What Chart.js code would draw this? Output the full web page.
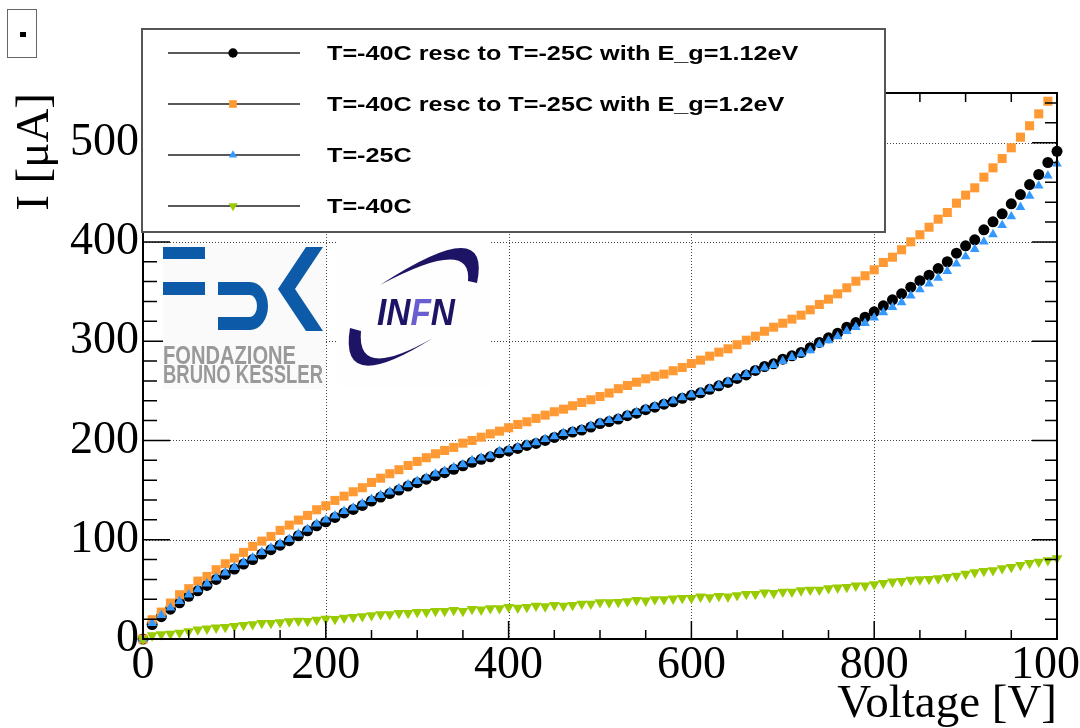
<!DOCTYPE html>
<html><head><meta charset="utf-8">
<script src="https://cdn.jsdelivr.net/npm/chart.js@4.4.1/dist/chart.umd.min.js"></script>
<style>html,body{margin:0;padding:0;background:#fff;}#wrap{position:relative;width:1080px;height:728px;}</style>
</head><body><div id="wrap"><canvas id="c"></canvas></div>
<script>
// ---- data ----
const voltage = [0,10,20,30,40,50,60,70,80,90,100,110,120,130,140,150,160,170,180,190,200,210,220,230,240,250,260,270,280,290,300,310,320,330,340,350,360,370,380,390,400,410,420,430,440,450,460,470,480,490,500,510,520,530,540,550,560,570,580,590,600,610,620,630,640,650,660,670,680,690,700,710,720,730,740,750,760,770,780,790,800,810,820,830,840,850,860,870,880,890,900,910,920,930,940,950,960,970,980,990,1000];
const rescEg112 = [0,14.5,22.5,30.0,36.5,43.0,48.5,54.0,60.0,65.0,70.5,75.5,80.0,85.5,90.0,94.5,99.0,104.0,109.0,114.0,118.0,122.5,127.0,130.5,134.5,139.0,143.0,146.5,150.0,154.0,157.5,161.0,164.5,167.5,171.0,174.5,178.0,181.0,183.5,187.5,189.5,192.0,195.0,197.0,200.0,203.0,206.0,208.5,210.5,213.5,217.0,219.0,221.5,225.0,227.5,231.0,233.5,236.5,239.0,242.5,245.5,248.0,251.5,255.0,258.5,262.5,266.0,270.5,274.5,277.2,281.9,285.3,288.6,293.4,298.7,303.4,308.1,314.1,318.8,324.2,329.6,335.6,341.7,347.7,354.4,361.0,366.5,373.2,380.0,388.6,396.1,402.1,412.2,420.2,428.3,438.4,447.7,457.8,467.9,480.0,491.3];
const rescEg12 = [0,19.4,27.1,36.2,44.6,50.7,58.3,63.0,69.8,75.8,81.5,87.2,93.3,98.6,103.3,109.4,114.7,119.8,124.5,130.2,134.2,139.6,143.9,148.3,152.4,157.7,162.0,166.5,170.5,174.8,178.9,182.6,186.6,189.9,193.0,197.3,200.0,203.3,206.7,209.4,212.8,216.1,218.8,222.2,225.5,228.9,231.5,234.9,238.3,241.0,244.3,247.8,252.1,255.4,258.7,262.1,264.7,266.8,270.2,273.5,277.5,280.9,284.9,288.9,292.3,296.4,301.0,305.0,310.0,314.1,318.1,322.2,326.2,331.6,337.0,342.3,347.7,353.8,360.4,365.9,371.9,379.3,384.6,392.1,400.1,407.2,414.8,422.9,429.6,439.0,447.1,454.5,465.2,474.6,484.0,494.8,505.5,517.0,529.0,541.7];
const tMinus25 = [0,16.0,24.1,31.5,38.2,44.6,50.0,55.7,61.7,66.8,72.4,77.1,81.9,87.5,91.9,96.0,100.6,106.0,110.8,116.1,120.1,124.2,128.8,132.2,136.3,140.9,144.9,148.3,151.7,155.7,159.0,162.4,166.5,169.1,173.0,175.8,179.9,182.6,184.6,189.2,190.6,193.3,196.0,198.0,201.3,204.0,207.4,209.4,211.4,214.8,218.1,220.3,222.5,225.9,228.5,231.9,234.6,237.3,240.0,243.3,246.0,248.6,252.1,255.4,259.4,263.4,266.8,270.5,273.2,275.9,279.9,283.9,287.3,290.6,296.7,300.7,304.7,310.1,314.1,318.1,323.6,328.9,334.3,339.0,345.8,352.0,357.8,363.8,370.5,378.0,385.3,392.7,400.1,407.5,416.8,425.6,435.0,446.4,456.5,466.6,478.7];
const tMinus40 = [0,3.6,4.6,5.3,6.3,7.7,9.4,10.4,11.4,12.0,13.0,14.0,14.7,16.0,16.0,16.7,17.7,18.3,18.0,19.4,20.4,20.0,21.4,22.1,22.8,23.8,24.8,24.8,26.1,26.1,27.1,27.1,28.1,28.1,29.2,28.1,30.1,29.5,30.8,30.8,32.1,31.5,32.1,33.5,32.8,34.1,33.5,34.1,35.5,35.5,36.9,36.8,37.2,37.9,39.2,38.6,39.9,39.9,40.6,41.2,41.2,42.6,41.9,43.2,42.6,43.9,45.2,45.2,46.7,46.2,47.6,47.6,48.9,49.6,49.6,51.0,51.7,52.3,53.7,53.7,55.0,56.3,57.7,58.3,59.7,60.0,60.3,61.0,62.3,63.7,65.7,67.1,68.4,69.1,71.1,72.4,74.4,76.4,77.8,79.2,81.2];
const seriesLabels = ['T=-40C resc to T=-25C with E_g=1.12eV','T=-40C resc to T=-25C with E_g=1.2eV','T=-25C','T=-40C'];
const xAxisTitle = 'Voltage [V]';
const yAxisTitle = 'I [\u03BCA]';

// ---- helpers ----
const SERIF = '"Liberation Serif", "DejaVu Serif", serif';
const SANS = '"Liberation Sans", Arial, sans-serif';
const NARROW = '"Liberation Sans Narrow", "Liberation Sans", Arial, sans-serif';
function toPoints(arr){ const out=[]; voltage.forEach((v,i)=>{ if(arr[i]!==undefined && arr[i]!==null) out.push({x:v,y:arr[i]}); }); return out; }
function marker(ctx, style, x, y, r, rot, color){
  ctx.fillStyle = color; ctx.beginPath();
  if (style==='circle') ctx.arc(x,y,r,0,Math.PI*2);
  else if (style==='rect'){ const s=r*Math.SQRT1_2; ctx.rect(x-s,y-s,2*s,2*s); }
  else { const g = rot===180?-1:1; ctx.moveTo(x,y-g*r); ctx.lineTo(x+0.866*r,y+g*r/2); ctx.lineTo(x-0.866*r,y+g*r/2); ctx.closePath(); }
  ctx.fill();
}
function fitText(ctx, text, x, y, w){
  const m = ctx.measureText(text).width; ctx.save(); ctx.translate(x,y); ctx.scale(w/m,1); ctx.fillText(text,0,0); ctx.restore();
}

const rootPlugin = {
  id:'rootFrame',
  beforeDatasetsDraw(chart){
    const {ctx, chartArea:a, scales:{x,y}} = chart;
    ctx.save(); ctx.strokeStyle='#444'; ctx.lineWidth=1; ctx.setLineDash([1,2]);
    x.ticks.forEach(t=>{ if(t.value<=x.min||t.value>=x.max) return; const p=Math.round(x.getPixelForValue(t.value))+0.5; ctx.beginPath(); ctx.moveTo(p,a.top); ctx.lineTo(p,a.bottom); ctx.stroke(); });
    y.ticks.forEach(t=>{ if(t.value<=y.min||t.value>=y.max) return; const p=Math.round(y.getPixelForValue(t.value))+0.5; ctx.beginPath(); ctx.moveTo(a.left,p); ctx.lineTo(a.right,p); ctx.stroke(); });
    ctx.restore();
  },
  afterDatasetsDraw(chart){
    const {ctx, chartArea:a, scales:{x,y}} = chart;
    ctx.save(); ctx.strokeStyle='#000'; ctx.lineWidth=1.5;
    ctx.beginPath();
    for(let v=x.min; v<=x.max+1e-6; v+=50){ const major=(v%200===0); const p=x.getPixelForValue(v);
      ctx.moveTo(p,a.bottom); ctx.lineTo(p,a.bottom-(major?18:9));
      ctx.moveTo(p,a.top); ctx.lineTo(p,a.top+9); }
    for(let v=y.min; v<=y.max+1e-6; v+=20){ const major=(v%100===0); const p=y.getPixelForValue(v);
      ctx.moveTo(a.left,p); ctx.lineTo(a.left+(major?27:14),p);
      ctx.moveTo(a.right,p); ctx.lineTo(a.right-(major?25:12),p); }
    ctx.stroke();
    ctx.lineWidth=2; ctx.strokeRect(a.left,a.top,a.right-a.left,a.bottom-a.top);
    ctx.restore();
  },
  afterDraw(chart){
    const ctx = chart.ctx; ctx.save();
    // FBK logo
    ctx.fillStyle='#fafafa'; ctx.fillRect(163,244,163,145);
    const fbk='#0d5ba8'; ctx.fillStyle=fbk;
    ctx.fillRect(163,247,42,12); ctx.fillRect(163,282,42,13);
    ctx.beginPath(); ctx.moveTo(218,282); ctx.lineTo(250,282); ctx.ellipse(250,306,18,24,0,-Math.PI/2,Math.PI/2); ctx.lineTo(218,330); ctx.lineTo(218,317); ctx.lineTo(250,317); ctx.ellipse(250,306,7,11,0,Math.PI/2,-Math.PI/2,true); ctx.lineTo(218,295); ctx.closePath(); ctx.fill();
    ctx.beginPath(); ctx.moveTo(306,247); ctx.lineTo(323,247); ctx.lineTo(295,289); ctx.lineTo(323,331); ctx.lineTo(306,331); ctx.lineTo(278,289); ctx.closePath(); ctx.fill();
    ctx.fillStyle='#999999'; ctx.font='bold 25px '+NARROW; ctx.textBaseline='alphabetic'; ctx.textAlign='left';
    fitText(ctx,'FONDAZIONE',163,364,133); fitText(ctx,'BRUNO KESSLER',163,383,160);
    // INFN logo
    ctx.fillStyle='#fefefe'; ctx.fillRect(337,240,153,147);
    const navy='#1e1466'; ctx.fillStyle=navy;
    ctx.beginPath(); ctx.moveTo(380,285); ctx.quadraticCurveTo(492,212,477,283); ctx.lineTo(468,281); ctx.quadraticCurveTo(472,236,380,285); ctx.closePath(); ctx.fill();
    ctx.beginPath(); ctx.moveTo(350,328); ctx.quadraticCurveTo(338,398,433,338); ctx.quadraticCurveTo(356,382,361,331); ctx.closePath(); ctx.fill();
    ctx.font='italic bold 36px '+SANS;
    const letters=['I','N','F','N']; const cols=[navy,navy,'#6a5fd0',navy];
    const total=ctx.measureText('INFN').width; const sx=78/total; let cx=377;
    letters.forEach((l,i)=>{ ctx.fillStyle=cols[i]; ctx.save(); ctx.translate(cx,325); ctx.scale(sx,1); ctx.fillText(l,0,0); ctx.restore(); cx+=ctx.measureText(l).width*sx; });
    // legend
    ctx.fillStyle='#fff'; ctx.fillRect(142,29,743,203); ctx.strokeStyle='#555'; ctx.lineWidth=2; ctx.strokeRect(142,29,743,203);
    const rows=[53,104,155,206];
    chart.data.datasets.forEach((ds,i)=>{ const yy=rows[i];
      ctx.strokeStyle='#222'; ctx.lineWidth=1.3; ctx.beginPath(); ctx.moveTo(168,yy); ctx.lineTo(300,yy); ctx.stroke();
      marker(ctx, ds.pointStyle, 233, yy, ds.pointRadius*0.85, ds.pointRotation||0, ds.backgroundColor);
      ctx.fillStyle='#000'; ctx.font='bold 21px '+SANS; ctx.textBaseline='middle'; ctx.textAlign='left';
      ctx.save(); ctx.translate(327,yy+1); ctx.scale(1.2,1); ctx.fillText(ds.label,0,0); ctx.restore();
    });
    // corner box
    ctx.strokeStyle='#666'; ctx.lineWidth=1; ctx.strokeRect(7.5,9.5,29,48); ctx.fillStyle='#000'; ctx.fillRect(20,32,6,5);
    ctx.restore();
  }
};

const colors = ['#000000','#ff9933','#3399ff','#99cc00'];
const styles = [['circle',5.5,0],['rect',6.4,0],['triangle',5.6,0],['triangle',6.2,180]];
const seriesData = [rescEg112, rescEg12, tMinus25, tMinus40];
const orders = [4,3,2,1];

new Chart(document.getElementById('c'), {
  type:'scatter',
  data:{ datasets: seriesData.map((arr,i)=>({
    label: seriesLabels[i], data: toPoints(arr), showLine:false,
    pointStyle: styles[i][0], pointRadius: styles[i][1], pointRotation: styles[i][2],
    backgroundColor: colors[i], borderColor: colors[i], pointBorderWidth:0, pointHoverRadius: styles[i][1],
    order: orders[i], clip:false }))},
  options:{
    responsive:true, maintainAspectRatio:false, animation:false, events:[],
    layout:{ padding:{ top:93, right:23, left:0, bottom:0 } },
    plugins:{ legend:{display:false}, tooltip:{enabled:false} },
    scales:{
      x:{ type:'linear', min:0, max:1000,
        afterFit(s){ s.height=89; s.paddingLeft=0; s.paddingRight=0; },
        grid:{display:false, drawTicks:false}, border:{display:false},
        ticks:{ stepSize:200, autoSkip:false, maxRotation:0, includeBounds:false, padding:4, color:'#000', font:{family:SERIF, size:46, lineHeight:1}, callback:(v)=>String(v) },
        title:{ display:true, text:xAxisTitle, align:'end', color:'#000', padding:0, font:{family:SERIF, size:47, lineHeight:1} } },
      y:{ type:'linear', min:0, max:550,
        afterFit(s){ s.width=143; s.paddingTop=0; s.paddingBottom=0; },
        grid:{display:false, drawTicks:false}, border:{display:false},
        ticks:{ stepSize:100, includeBounds:false, padding:4, color:'#000', font:{family:SERIF, size:46, lineHeight:1}, callback:(v)=>String(v) },
        title:{ display:true, text:yAxisTitle, align:'end', color:'#000', padding:{top:12, bottom:0}, font:{family:SERIF, size:47, lineHeight:1} } }
    }
  },
  plugins:[rootPlugin]
});
</script></body></html>
